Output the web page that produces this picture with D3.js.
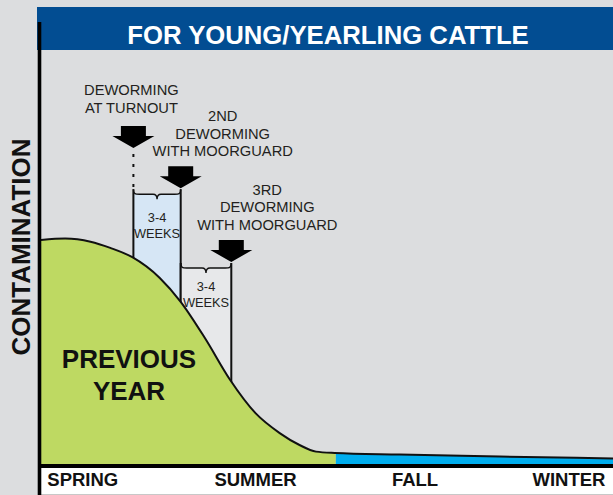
<!DOCTYPE html>
<html>
<head>
<meta charset="utf-8">
<script src="https://cdn.jsdelivr.net/npm/d3@7"></script>
<style>
  html, body { margin: 0; padding: 0; background: #dcdddf; }
  svg { display: block; font-family: "Liberation Sans", Arial, Helvetica, sans-serif; }
</style>
</head>
<body>
<div id="chart"></div>
<script>
// contamination curve (previous year), week of the grazing year -> level
const weeks = [0, 2.2, 4.5, 6.3, 8.3, 10.8, 12.7, 14.9, 17.2, 19.5, 21.7, 23.5, 25, 26.7, 32.6, 41.7, 52];
const contamination = [50.7, 51.0, 50.3, 48.9, 46.8, 42.1, 36.7, 28.5, 19.0, 11.5, 7.0, 4.3, 2.8, 2.5, 2.15, 1.7, 1.25];
const fallStart = 26.8;

// deworming treatments
const treatmentWeeks = [8.4, 12.7, 17.3];
const arrowLevels = [71.5, 62.4, 45.7];
const treatmentLabels = [
  ['DEWORMING', 'AT TURNOUT'],
  ['2ND', 'DEWORMING', 'WITH MOORGUARD'],
  ['3RD', 'DEWORMING', 'WITH MOORGUARD']
];
const intervalLabel = ['3-4', 'WEEKS'];

const seasons = ['SPRING', 'SUMMER', 'FALL', 'WINTER'];
const seasonWeeks = [3.8, 19.5, 34, 48];

const title = 'FOR YOUNG/YEARLING CATTLE';
const yTitle = 'CONTAMINATION';
const areaLabel = ['PREVIOUS', 'YEAR'];

const width = 613, height = 495;
const plotLeft = 41, plotRight = 613, plotBase = 464, plotTop = 22;

const svg = d3.select('#chart').append('svg')
  .attr('width', width)
  .attr('height', height);

const x = d3.scaleLinear().domain([0, 52]).range([plotLeft, plotRight]);
const y = d3.scaleLinear().domain([0, 100]).range([plotBase, plotTop]);

const pts = weeks.map((w, i) => [w, contamination[i]]);

svg.append('rect')
  .attr('width', width).attr('height', height)
  .attr('fill', '#dcdddf');

// header band
svg.append('rect')
  .attr('x', 37).attr('y', 7)
  .attr('width', width - 37).attr('height', 43)
  .attr('fill', '#024d92');

svg.append('text')
  .attr('x', 328).attr('y', 44)
  .attr('text-anchor', 'middle')
  .attr('fill', '#fff')
  .attr('font-weight', 'bold')
  .attr('font-size', 25.7)
  .text(title);

const defs = svg.append('defs');
defs.append('clipPath').attr('id', 'clip-green')
  .append('rect')
    .attr('x', plotLeft).attr('y', 0)
    .attr('width', x(fallStart) - plotLeft).attr('height', height);
defs.append('clipPath').attr('id', 'clip-blue')
  .append('rect')
    .attr('x', x(fallStart)).attr('y', 0)
    .attr('width', plotRight - x(fallStart)).attr('height', height);

// treatment interval columns
const braceTop = (x0, x1, t) => {
  const m = (x0 + x1) / 2;
  return `M${x0},${t} C${x0},${t + 5} ${x0 + 2},${t + 5} ${x0 + 6},${t + 5}` +
    ` L${m - 4},${t + 5} C${m - 1},${t + 5} ${m},${t + 7} ${m},${t + 10}` +
    ` C${m},${t + 7} ${m + 1},${t + 5} ${m + 4},${t + 5}` +
    ` L${x1 - 6},${t + 5} C${x1 - 2},${t + 5} ${x1},${t + 5} ${x1},${t}`;
};

const columns = d3.range(treatmentWeeks.length - 1).map(i => ({
  x0: x(treatmentWeeks[i]),
  x1: x(treatmentWeeks[i + 1]),
  t: y(arrowLevels[i + 1]) + 1,
  fill: i === 0 ? '#d6e6f5' : '#e7e8ea',
  textDy: i === 0 ? 33 : 28
}));

const col = svg.append('g').selectAll('g')
  .data(columns)
  .join('g');

col.append('path')
  .attr('d', d => braceTop(d.x0, d.x1, d.t) + ` L${d.x1},${plotBase} L${d.x0},${plotBase} Z`)
  .attr('fill', d => d.fill);

col.append('path')
  .attr('d', d => braceTop(d.x0, d.x1, d.t))
  .attr('fill', 'none')
  .attr('stroke', '#111')
  .attr('stroke-width', 1.4);

col.append('path')
  .attr('d', d => `M${d.x0},${d.t} V${plotBase} M${d.x1},${d.t} V${plotBase}`)
  .attr('stroke', '#111')
  .attr('stroke-width', 2);

col.append('text')
  .attr('text-anchor', 'middle')
  .attr('font-size', 12.8)
  .attr('fill', '#231f20')
  .selectAll('tspan')
  .data(d => intervalLabel.map((s, j) => ({ s, j, d })))
  .join('tspan')
    .attr('x', v => (v.d.x0 + v.d.x1) / 2)
    .attr('y', v => v.d.t + v.d.textDy + v.j * 16)
    .text(v => v.s);

// previous year contamination
const area = d3.area()
  .x(d => x(d[0]))
  .y0(y(0))
  .y1(d => y(d[1]))
  .curve(d3.curveMonotoneX);

svg.append('path')
  .datum(pts)
  .attr('clip-path', 'url(#clip-green)')
  .attr('d', area)
  .attr('fill', '#bed962');

svg.append('path')
  .datum(pts)
  .attr('clip-path', 'url(#clip-blue)')
  .attr('d', area)
  .attr('fill', '#00aeef');

svg.append('path')
  .datum(pts)
  .attr('d', area.lineY1())
  .attr('fill', 'none')
  .attr('stroke', '#111')
  .attr('stroke-width', 2);

svg.append('g')
  .attr('font-weight', 'bold')
  .attr('font-size', 26)
  .attr('text-anchor', 'middle')
  .attr('fill', '#111')
  .selectAll('text')
  .data(areaLabel)
  .join('text')
    .attr('x', 129)
    .attr('y', (d, i) => 368 + i * 32)
    .text(d => d);

// arrows
const arrow = (tx, ty) => {
  const sw = 12.5, hw = 21, hh = 12, sh = 10;
  return `M${tx},${ty} L${tx - hw},${ty - hh} L${tx - sw},${ty - hh} L${tx - sw},${ty - hh - sh}` +
    ` L${tx + sw},${ty - hh - sh} L${tx + sw},${ty - hh} L${tx + hw},${ty - hh} Z`;
};

svg.append('g').selectAll('path')
  .data(treatmentWeeks)
  .join('path')
    .attr('d', (w, i) => arrow(x(w), y(arrowLevels[i])))
    .attr('fill', '#000');

// dotted drop from turnout arrow to first column
svg.append('line')
  .attr('x1', x(treatmentWeeks[0])).attr('x2', x(treatmentWeeks[0]))
  .attr('y1', y(arrowLevels[0]) + 6).attr('y2', y(arrowLevels[1]))
  .attr('stroke', '#111')
  .attr('stroke-width', 2)
  .attr('stroke-dasharray', '3 7');

const labelDx = [-2, 42, 36];
svg.append('g')
  .attr('font-size', 14.7)
  .attr('text-anchor', 'middle')
  .attr('fill', '#231f20')
  .selectAll('text')
  .data(treatmentLabels)
  .join('text')
  .each(function (lines, i) {
    const lastBase = y(arrowLevels[i]) - 22 - (i === 0 ? 13 : 10);
    d3.select(this).selectAll('tspan')
      .data(lines)
      .join('tspan')
        .attr('x', x(treatmentWeeks[i]) + labelDx[i])
        .attr('y', (s, j) => lastBase - (lines.length - 1 - j) * 17.6)
        .text(s => s);
  });

// axes
svg.append('rect')
  .attr('x', plotLeft).attr('y', 468)
  .attr('width', plotRight - plotLeft).attr('height', height - 468)
  .attr('fill', '#fff');

svg.append('line')
  .attr('x1', plotLeft).attr('x2', plotRight)
  .attr('y1', 466).attr('y2', 466)
  .attr('stroke', '#000')
  .attr('stroke-width', 4);

svg.append('line')
  .attr('x1', plotLeft).attr('x2', plotRight)
  .attr('y1', 494.5).attr('y2', 494.5)
  .attr('stroke', '#c8c8c8')
  .attr('stroke-width', 1);

svg.append('line')
  .attr('x1', 39.5).attr('x2', 39.5)
  .attr('y1', plotTop).attr('y2', height)
  .attr('stroke', '#000')
  .attr('stroke-width', 3.6);

svg.append('g')
  .attr('font-weight', 'bold')
  .attr('font-size', 18.5)
  .attr('text-anchor', 'middle')
  .attr('fill', '#111')
  .selectAll('text')
  .data(seasons)
  .join('text')
    .attr('x', (d, i) => x(seasonWeeks[i]))
    .attr('y', 486)
    .text(d => d);

svg.append('text')
  .attr('transform', 'translate(29.5,247) rotate(-90)')
  .attr('text-anchor', 'middle')
  .attr('font-weight', 'bold')
  .attr('font-size', 26)
  .attr('fill', '#111')
  .text(yTitle);
</script>
</body>
</html>
